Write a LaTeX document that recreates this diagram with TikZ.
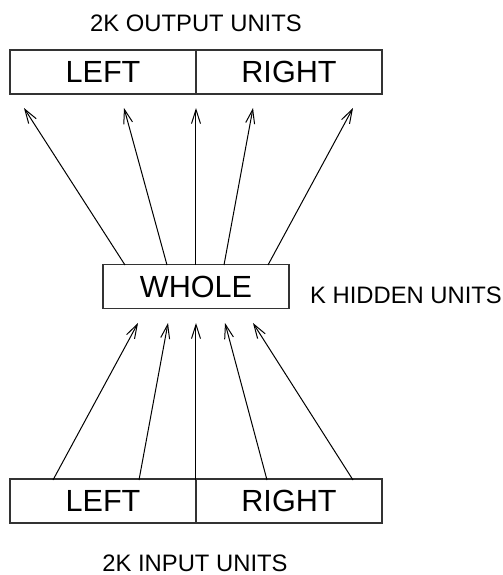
\documentclass[tikz,border=0pt]{standalone}
\usepackage{fontspec}
\setmainfont{Liberation Sans}
\usetikzlibrary{arrows.meta}
\begin{document}
\begin{tikzpicture}[x=0.5pt,y=-0.5pt,line width=0.5pt,
    >={Straight Barb[length=7pt,width=4.5pt]}]
        \useasboundingbox (0,0) rectangle (503,575);

        \begin{scope}[every node/.style={draw=black!80,line width=0.75pt,inner sep=0pt,
            minimum width=93pt,minimum height=22pt,font=\fontsize{15.3}{18}\selectfont}]
          \node (outL) at (103,72)    {LEFT};
          \node (outR) at (289,72)    {RIGHT};
          \node (hid)  at (196,286.5) {WHOLE};
          \node (inL)  at (103,501)   {LEFT};
          \node (inR)  at (289,501)   {RIGHT};
        \end{scope}

        \begin{scope}[every node/.style={inner sep=0pt,font=\fontsize{11.9}{14}\selectfont}]
          \node (outlab) at (196,23)  {2K OUTPUT UNITS};
          \node (hidlab) at (406,295) {K HIDDEN UNITS};
          \node (inlab)  at (195,563) {2K INPUT UNITS};
        \end{scope}

        % hidden -> output
        \coordinate (h1) at (125,265);
        \coordinate (h2) at (167,265);
        \coordinate (h3) at (196,265);
        \coordinate (h4) at (224,265);
        \coordinate (h5) at (268,265);
        \coordinate (o1) at (24,108);
        \coordinate (o2) at (124,108);
        \coordinate (o3) at (196,108);
        \coordinate (o4) at (253,108);
        \coordinate (o5) at (353,108);

        % input -> hidden
        \coordinate (i1) at (53,480);
        \coordinate (i2) at (139,480);
        \coordinate (i3) at (196,480);
        \coordinate (i4) at (267,480);
        \coordinate (i5) at (353,480);
        \coordinate (t1) at (138,323);
        \coordinate (t2) at (168,323);
        \coordinate (t3) at (196,323);
        \coordinate (t4) at (225,323);
        \coordinate (t5) at (253,323);

        \begin{scope}[every edge/.style={draw,->}]
          \path (h1) edge (o1);
          \path (h2) edge (o2);
          \path (h3) edge (o3);
          \path (h4) edge (o4);
          \path (h5) edge (o5);
          \path (i1) edge (t1);
          \path (i2) edge (t2);
          \path (i3) edge (t3);
          \path (i4) edge (t4);
          \path (i5) edge (t5);
        \end{scope}

      \end{tikzpicture}
\end{document}
